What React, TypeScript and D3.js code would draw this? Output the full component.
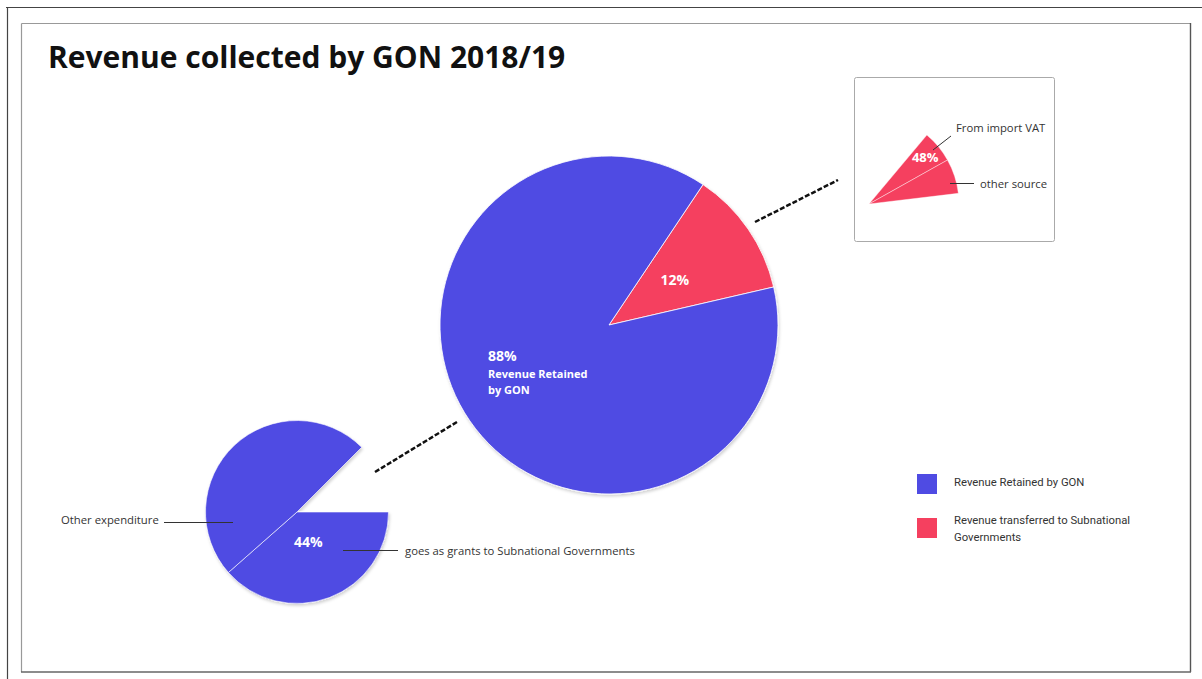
import React from "react";
import * as d3 from "d3";

const mainCategories = ["Revenue transferred to Subnational Governments", "Revenue Retained by GON"];
const mainValues = [12, 88];
const mainLabels = ["12%", "88%"];

const retainedParts = ["goes as grants to Subnational Governments", "Other expenditure"];
const retainedValues = [44, 56];

const transferParts = ["From import VAT", "other source"];
const transferValues = [48, 52];

const legendItems = ["Revenue Retained by GON", "Revenue transferred to Subnational Governments"];

const BLUE = "#4f4be3";
const RED = "#f5405f";
const deg = Math.PI / 180;

const W = 1202;
const H = 679;

export default function App() {
  // main pie
  const mainC = { x: 609, y: 325 };
  const mainR = 169;
  const mainPie = d3.pie<number>().sort(null).startAngle(33.8 * deg).endAngle(393.8 * deg)(mainValues);
  const mainArc = d3.arc<d3.PieArcDatum<number>>().innerRadius(0).outerRadius(mainR);
  const mainLabelArc = d3.arc<d3.PieArcDatum<number>>().innerRadius(80).outerRadius(80);
  const mainColors = [RED, BLUE];

  // retained (small left) pie
  const smC = { x: 297, y: 512 };
  const smR = 91.5;
  const smPie = d3.pie<number>().sort(null).startAngle(90 * deg).endAngle(405 * deg)(retainedValues);
  const smArc = d3.arc<d3.PieArcDatum<number>>().innerRadius(0).outerRadius(smR);
  const smLabelArc = d3.arc<d3.PieArcDatum<number>>().innerRadius(32).outerRadius(32);

  // transfer (inset) pie
  const inC = { x: 869, y: 204 };
  const inR = 90;
  const inSpan = 360 * (mainValues[0] / 100);
  const inPie = d3.pie<number>().sort(null).startAngle(40 * deg).endAngle((40 + inSpan) * deg)(transferValues);
  const inArc = d3.arc<d3.PieArcDatum<number>>().innerRadius(0).outerRadius(inR);
  const inLabelArc = d3.arc<d3.PieArcDatum<number>>().innerRadius(73).outerRadius(73);

  const legendColor = d3.scaleOrdinal<string, string>().domain(legendItems).range([BLUE, RED]);
  const legendY = d3.scalePoint<string>().domain(legendItems).range([484, 528]);

  const font = "'Open Sans', 'DejaVu Sans', sans-serif";
  const pct = (v: number) => `${v}%`;
  const fs = 11.3;

  return (
    <svg
      width={W}
      height={H}
      style={{ position: "absolute", left: 0, top: 0, background: "#fff" }}
      fontFamily={font}
    >
      <defs>
        <filter id="sh" x="-20%" y="-20%" width="140%" height="140%">
          <feDropShadow dx="1" dy="2" stdDeviation="1.5" floodColor="#000" floodOpacity="0.18" />
        </filter>
      </defs>
      <rect x={0} y={0} width={W} height={H} fill="#fff" />
      {/* outer frame lines */}
      <line x1={6} y1={7.5} x2={W} y2={7.5} stroke="#444" strokeWidth={1.2} />
      <line x1={7.5} y1={7} x2={7.5} y2={H} stroke="#444" strokeWidth={1.2} />
      {/* inner frame */}
      <line x1={21.5} y1={23.5} x2={1190} y2={23.5} stroke="#999" strokeWidth={1.2} />
      <line x1={21.5} y1={23.5} x2={21.5} y2={672} stroke="#999" strokeWidth={1.2} />
      <line x1={1190.5} y1={23} x2={1190.5} y2={672} stroke="#555" strokeWidth={1.4} />
      <line x1={21} y1={672} x2={1191} y2={672} stroke="#666" strokeWidth={1.4} />

      <text x={48} y={68} fontSize={30} fontWeight={700} fill="#111">
        Revenue collected by GON 2018/19
      </text>

      {/* inset box */}
      <rect x={854.5} y={77.5} width={200} height={164} rx={2} fill="#fff" stroke="#aaa" strokeWidth={1} />

      {/* dashed connectors */}
      <line x1={755} y1={222} x2={838} y2={180} stroke="#111" strokeWidth={2.5} strokeDasharray="5 2" />
      <line x1={375} y1={472} x2={457} y2={422} stroke="#111" strokeWidth={2.5} strokeDasharray="5 2" />

      {/* main pie */}
      <g transform={`translate(${mainC.x},${mainC.y})`} filter="url(#sh)">
        {mainPie.map((d, i) => (
          <path key={i} d={mainArc(d) || ""} fill={mainColors[i]} stroke="#fff" strokeWidth={0.8} />
        ))}
      </g>
      <g transform={`translate(${mainC.x},${mainC.y})`}>
        <text
          x={mainLabelArc.centroid(mainPie[0])[0]}
          y={mainLabelArc.centroid(mainPie[0])[1]}
          textAnchor="middle"
          dominantBaseline="central"
          fontSize={14}
          fontWeight={700}
          fill="#fff"
        >
          {mainLabels[0]}
        </text>
      </g>
      <text x={488} y={361} fontSize={14} fontWeight={700} fill="#fff">
        {mainLabels[1]}
      </text>
      <text x={488} y={378} fontSize={11} fontWeight={700} fill="#fff">
        Revenue Retained
      </text>
      <text x={488} y={394} fontSize={11} fontWeight={700} fill="#fff">
        by GON
      </text>

      {/* small retained pie */}
      <g transform={`translate(${smC.x},${smC.y})`} filter="url(#sh)">
        {smPie.map((d, i) => (
          <path key={i} d={smArc(d) || ""} fill={BLUE} stroke="#fff" strokeWidth={0.6} />
        ))}
      </g>
      <g transform={`translate(${smC.x},${smC.y})`}>
        <text
          x={smLabelArc.centroid(smPie[0])[0]}
          y={smLabelArc.centroid(smPie[0])[1]}
          textAnchor="middle"
          dominantBaseline="central"
          fontSize={14}
          fontWeight={700}
          fill="#fff"
        >
          {pct(retainedValues[0])}
        </text>
      </g>
      <line x1={164} y1={522.5} x2={233} y2={522.5} stroke="#333" strokeWidth={1} />
      <text x={61} y={519} fontSize={fs} fill="#333" dominantBaseline="central">
        {retainedParts[1]}
      </text>
      <line x1={343} y1={550.5} x2={398} y2={550.5} stroke="#333" strokeWidth={1} />
      <text x={405} y={550} fontSize={fs} fill="#333" dominantBaseline="central">
        {retainedParts[0]}
      </text>

      {/* inset transfer pie */}
      <g transform={`translate(${inC.x},${inC.y})`}>
        {inPie.map((d, i) => (
          <path key={i} d={inArc(d) || ""} fill={RED} stroke="#fff" strokeWidth={0.5} strokeOpacity={0.8} />
        ))}
        <text
          x={inLabelArc.centroid(inPie[0])[0]}
          y={inLabelArc.centroid(inPie[0])[1]}
          textAnchor="middle"
          dominantBaseline="central"
          fontSize={13}
          fontWeight={700}
          fill="#fff"
        >
          {pct(transferValues[0])}
        </text>
      </g>
      <line x1={933} y1={150} x2={951} y2={136} stroke="#333" strokeWidth={1} />
      <text x={956} y={127} fontSize={fs} fill="#333" dominantBaseline="central">
        {transferParts[0]}
      </text>
      <line x1={950} y1={183.5} x2={974} y2={183.5} stroke="#333" strokeWidth={1} />
      <text x={980} y={183.5} fontSize={fs} fill="#333" dominantBaseline="central">
        {transferParts[1]}
      </text>

      {/* legend */}
      <g fontFamily="Roboto, 'Open Sans', sans-serif">
        {legendItems.map((name) => {
          const y = legendY(name) as number;
          const words = name === legendItems[1] ? ["Revenue transferred to Subnational", "Governments"] : [name];
          return (
            <g key={name}>
              <rect x={917} y={y - 10} width={20} height={20} fill={legendColor(name)} />
              {words.map((w, j) => (
                <text
                  key={j}
                  x={954}
                  y={y - 2.5 + j * 17 - (words.length > 1 ? 5.5 : -0.5)}
                  fontSize={fs}
                  fill="#333"
                  dominantBaseline="central"
                >
                  {w}
                </text>
              ))}
            </g>
          );
        })}
      </g>
    </svg>
  );
}
